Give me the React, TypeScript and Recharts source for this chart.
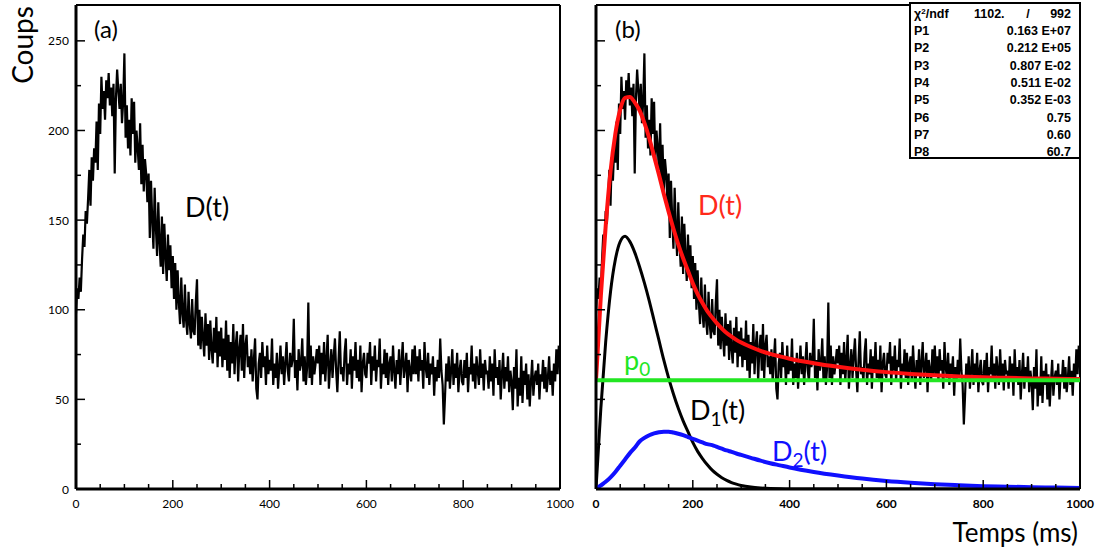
import React from "react";
import { ComposedChart, Line, XAxis, YAxis, ReferenceLine } from "recharts";

// histogram counts, one value per 2.5 ms bin (0 .. 997.5 ms), one row = 50 ms
const BIN_MS = 2.5;
const COUNTS = [
  98, 112, 106, 118, 110, 128, 142, 135, 155, 148, 162, 178, 158, 185, 172, 190, 182, 205, 178, 215,
  198, 230, 212, 222, 206, 228, 218, 232, 214, 224, 208, 226, 176, 218, 234, 222, 212, 226, 204, 216,
  243, 196, 214, 190, 206, 186, 218, 198, 216, 182, 200, 190, 178, 204, 170, 192, 166, 184, 176, 160,
  176, 140, 172, 150, 134, 168, 146, 130, 160, 138, 124, 152, 120, 148, 130, 116, 142, 122, 136, 112,
  130, 106, 126, 100, 122, 104, 92, 118, 98, 90, 114, 94, 86, 110, 92, 84, 106, 88, 86, 104,
  117, 80, 100, 78, 96, 84, 74, 98, 80, 92, 72, 94, 78, 70, 90, 76, 96, 68, 88, 74,
  90, 68, 84, 72, 94, 66, 86, 62, 82, 70, 92, 64, 80, 88, 60, 78, 86, 66, 92, 62,
  80, 86, 68, 74, 64, 78, 60, 72, 84, 56, 50, 70, 76, 62, 82, 68, 74, 58, 80, 64,
  72, 66, 84, 58, 70, 62, 76, 56, 68, 80, 64, 74, 58, 70, 82, 66, 60, 76, 68, 72,
  95, 62, 72, 55, 78, 66, 70, 84, 60, 74, 58, 68, 104, 62, 80, 58, 74, 64, 70, 78,
  70, 80, 58, 76, 64, 82, 60, 72, 86, 56, 68, 78, 62, 74, 84, 66, 54, 72, 88, 64,
  68, 60, 76, 84, 58, 70, 64, 78, 56, 74, 66, 82, 62, 72, 60, 80, 54, 70, 76, 64,
  62, 76, 70, 82, 58, 74, 66, 80, 60, 72, 68, 84, 56, 70, 64, 78, 62, 76, 58, 70,
  74, 60, 80, 66, 56, 72, 64, 78, 58, 70, 82, 62, 68, 76, 54, 72, 66, 60, 78, 64,
  80, 64, 74, 60, 78, 66, 72, 56, 82, 68, 62, 76, 58, 70, 64, 74, 52, 68, 60, 72,
  62, 84, 66, 58, 36, 52, 70, 60, 74, 56, 66, 78, 58, 70, 62, 76, 54, 66, 72, 60,
  58, 72, 62, 76, 54, 68, 64, 80, 60, 70, 56, 74, 66, 58, 78, 62, 70, 55, 72, 64,
  66, 56, 74, 60, 70, 52, 78, 62, 68, 58, 72, 50, 64, 76, 56, 68, 60, 74, 54, 66,
  60, 44, 68, 56, 78, 46, 62, 52, 74, 48, 66, 58, 70, 50, 64, 46, 60, 72, 52, 62,
  66, 58, 70, 50, 64, 60, 72, 56, 68, 54, 62, 74, 58, 66, 52, 70, 60, 78, 64, 80,
];

// fitted curves (ms)
const FIT_T = [
  0, 10, 20, 30, 40, 50, 60, 70, 80, 90, 100, 110, 120, 130, 140, 150, 160, 170, 180, 190,
  200, 210, 220, 230, 240, 250, 260, 270, 280, 290, 300, 320, 340, 360, 380, 400,
  450, 500, 550, 600, 650, 700, 750, 800, 850, 900, 950, 1000,
];
const FIT_D = [
  60.7, 107.7, 146.7, 177.2, 198.2, 211.7, 218.2, 218.7, 215.7, 211.2, 204.2, 195.7, 185.7, 175.4, 164.7, 154.7, 145.2, 136.5, 128.7, 121.7,
  114.7, 108.7, 103.7, 99.2, 95.7, 92.4, 89.5, 87, 85, 83.2, 81.7, 79.2, 77.1, 75.4, 74, 72.7,
  70.2, 68.2, 66.5, 65.2, 64.2, 63.4, 62.8, 62.3, 62, 61.7, 61.5, 61.3,
];
const FIT_D1 = [
  0, 45, 82, 110, 128, 138, 141, 138, 132, 124, 115, 105, 94, 83, 72, 62, 53, 45, 38, 32,
  26, 21, 17, 13.5, 10.5, 8.2, 6.3, 4.8, 3.6, 2.7, 2, 1.1, 0.6, 0.3, 0.1, 0,
  0, 0, 0, 0, 0, 0, 0, 0, 0, 0, 0, 0,
];
const FIT_D2 = [
  0, 2, 4, 6.5, 9.5, 13, 16.5, 20, 23, 26.5, 28.5, 30, 31, 31.7, 32, 32, 31.5, 30.8, 30, 29,
  28, 27, 26, 25, 24.5, 23.5, 22.5, 21.5, 20.7, 19.8, 19, 17.4, 15.8, 14.4, 13.2, 12,
  9.5, 7.5, 5.8, 4.5, 3.5, 2.7, 2.1, 1.6, 1.3, 1, 0.8, 0.6,
];
const P0 = 60.7;

const X_TICKS = [0, 50, 100, 150, 200, 250, 300, 350, 400, 450, 500, 550, 600, 650, 700, 750, 800, 850, 900, 950, 1000];
const Y_TICKS = [0, 25, 50, 75, 100, 125, 150, 175, 200, 225, 250];

const STATS = [
  ["P1", "0.163 E+07"],
  ["P2", "0.212 E+05"],
  ["P3", "0.807 E-02"],
  ["P4", "0.511 E-02"],
  ["P5", "0.352 E-03"],
  ["P6", "0.75"],
  ["P7", "0.60"],
  ["P8", "60.7"],
];

const histData = COUNTS.map((c, i) => ({ t: i * BIN_MS, c }));
const fitData = FIT_T.map((t, i) => ({ t, d: FIT_D[i], d1: FIT_D1[i], d2: FIT_D2[i] }));

const FONT = "Lato, 'Open Sans', sans-serif";

function XTick(props: any, bold: boolean) {
  const { x, y, payload } = props;
  const v = payload.value;
  const major = v % 200 === 0;
  return (
    <g>
      <line x1={x} x2={x} y1={y} y2={y - (major ? 9 : 5)} stroke="#000" strokeWidth={1.5} />
      {major && (
        <text x={x} y={y + 14} textAnchor="middle" dominantBaseline="central"
          fontSize={12} fontWeight={bold ? 700 : 400} fontFamily={FONT} fill="#000">
          {v}
        </text>
      )}
    </g>
  );
}

function YTick(props: any, labels: boolean) {
  const { x, y, payload } = props;
  const v = payload.value;
  const major = v % 50 === 0;
  return (
    <g>
      <line x1={x} x2={x + (major ? 9 : 5)} y1={y} y2={y} stroke="#000" strokeWidth={1.5} />
      {labels && major && (
        <text x={x - 7} y={y} textAnchor="end" dominantBaseline="central"
          fontSize={12} fontFamily={FONT} fill="#000">
          {v}
        </text>
      )}
    </g>
  );
}

function Panel({ left, width, yWidth, labels, fits }: { left: number; width: number; yWidth: number; labels: boolean; fits: boolean }) {
  return (
    <div style={{ position: "absolute", left, top: 0 }}>
      <ComposedChart width={width} height={551} margin={{ top: 5, right: 30, bottom: 32, left: 0 }}>
        <XAxis
          dataKey="t"
          type="number"
          domain={[0, 1000]}
          ticks={X_TICKS}
          interval={0}
          tickSize={0}
          tickMargin={0}
          height={30}
          axisLine={{ stroke: "#000", strokeWidth: 3 }}
          tickLine={false}
          tick={(p: any) => XTick(p, fits)}
          allowDataOverflow
        />
        <YAxis
          type="number"
          domain={[0, 270]}
          ticks={Y_TICKS}
          interval={0}
          tickSize={0}
          tickMargin={0}
          width={yWidth}
          axisLine={{ stroke: "#000", strokeWidth: 3 }}
          tickLine={false}
          tick={(p: any) => YTick(p, labels)}
          allowDataOverflow
        />
        <ReferenceLine y={270} stroke="#000" strokeWidth={2} />
        <ReferenceLine x={1000} stroke="#000" strokeWidth={2} />
        <Line data={histData} dataKey="c" type="linear" stroke="#000" strokeWidth={2.2}
          dot={false} activeDot={false} isAnimationActive={false} />
        {fits && (
          <Line data={fitData} dataKey="d1" type="monotone" stroke="#000" strokeWidth={3}
            dot={false} activeDot={false} isAnimationActive={false} />
        )}
        {fits && (
          <Line data={fitData} dataKey="d2" type="monotone" stroke="#1010ff" strokeWidth={4}
            dot={false} activeDot={false} isAnimationActive={false} />
        )}
        {fits && (
          <Line data={fitData} dataKey="d" type="monotone" stroke="#ff1010" strokeWidth={4}
            dot={false} activeDot={false} isAnimationActive={false} />
        )}
        {fits && <ReferenceLine y={P0} stroke="#22e622" strokeWidth={4} />}
      </ComposedChart>
    </div>
  );
}

export default function App() {
  return (
    <div style={{ position: "absolute", left: 0, top: 0, width: 1099, height: 551, background: "#fff", fontFamily: FONT }}>
      <Panel left={0} width={590} yWidth={76} labels fits={false} />
      <Panel left={586} width={524} yWidth={10} labels={false} fits />
      <svg width={1099} height={551} style={{ position: "absolute", left: 0, top: 0, pointerEvents: "none" }}
        fontFamily={FONT}>
        <text x={33} y={45} transform="rotate(-90 33 45)" textAnchor="middle" fontSize={28} fill="#000">Coups</text>
        <text x={1078} y={542} textAnchor="end" fontSize={26} fill="#000">Temps (ms)</text>
        <text x={94} y={38} fontSize={24} fill="#000">(a)</text>
        <text x={615} y={38} fontSize={24} fill="#000">(b)</text>
        <text x={185} y={217} fontSize={27} fill="#000">D(t)</text>
        <text x={698} y={215} fontSize={27} fill="#ff2a1a">D(t)</text>
        <text x={624} y={370} fontSize={27} fill="#22e622">
          p<tspan dy={6} fontSize={19}>0</tspan>
        </text>
        <text x={690} y={420} fontSize={27} fill="#000">
          D<tspan dy={6} fontSize={19}>1</tspan><tspan dy={-6}>(t)</tspan>
        </text>
        <text x={772} y={461} fontSize={27} fill="#1010ff">
          D<tspan dy={6} fontSize={19}>2</tspan><tspan dy={-6}>(t)</tspan>
        </text>
        <g fontSize={12.5} fontWeight={700} fontFamily="'Liberation Sans', Arial, sans-serif" fill="#000">
          <rect x={910} y={3} width={170} height={155} fill="#fff" stroke="#000" strokeWidth={2} />
          <text x={914} y={18}>χ<tspan dy={-4} fontSize={8}>2</tspan><tspan dy={4}>/ndf</tspan></text>
          <text x={974} y={18}>1102.</text>
          <text x={1028} y={18} textAnchor="middle">/</text>
          <text x={1071} y={18} textAnchor="end">992</text>
          {STATS.map(([k, v], i) => (
            <g key={k}>
              <text x={914} y={35 + i * 17.3}>{k}</text>
              <text x={1071} y={35 + i * 17.3} textAnchor="end">{v}</text>
            </g>
          ))}
        </g>
      </svg>
    </div>
  );
}
